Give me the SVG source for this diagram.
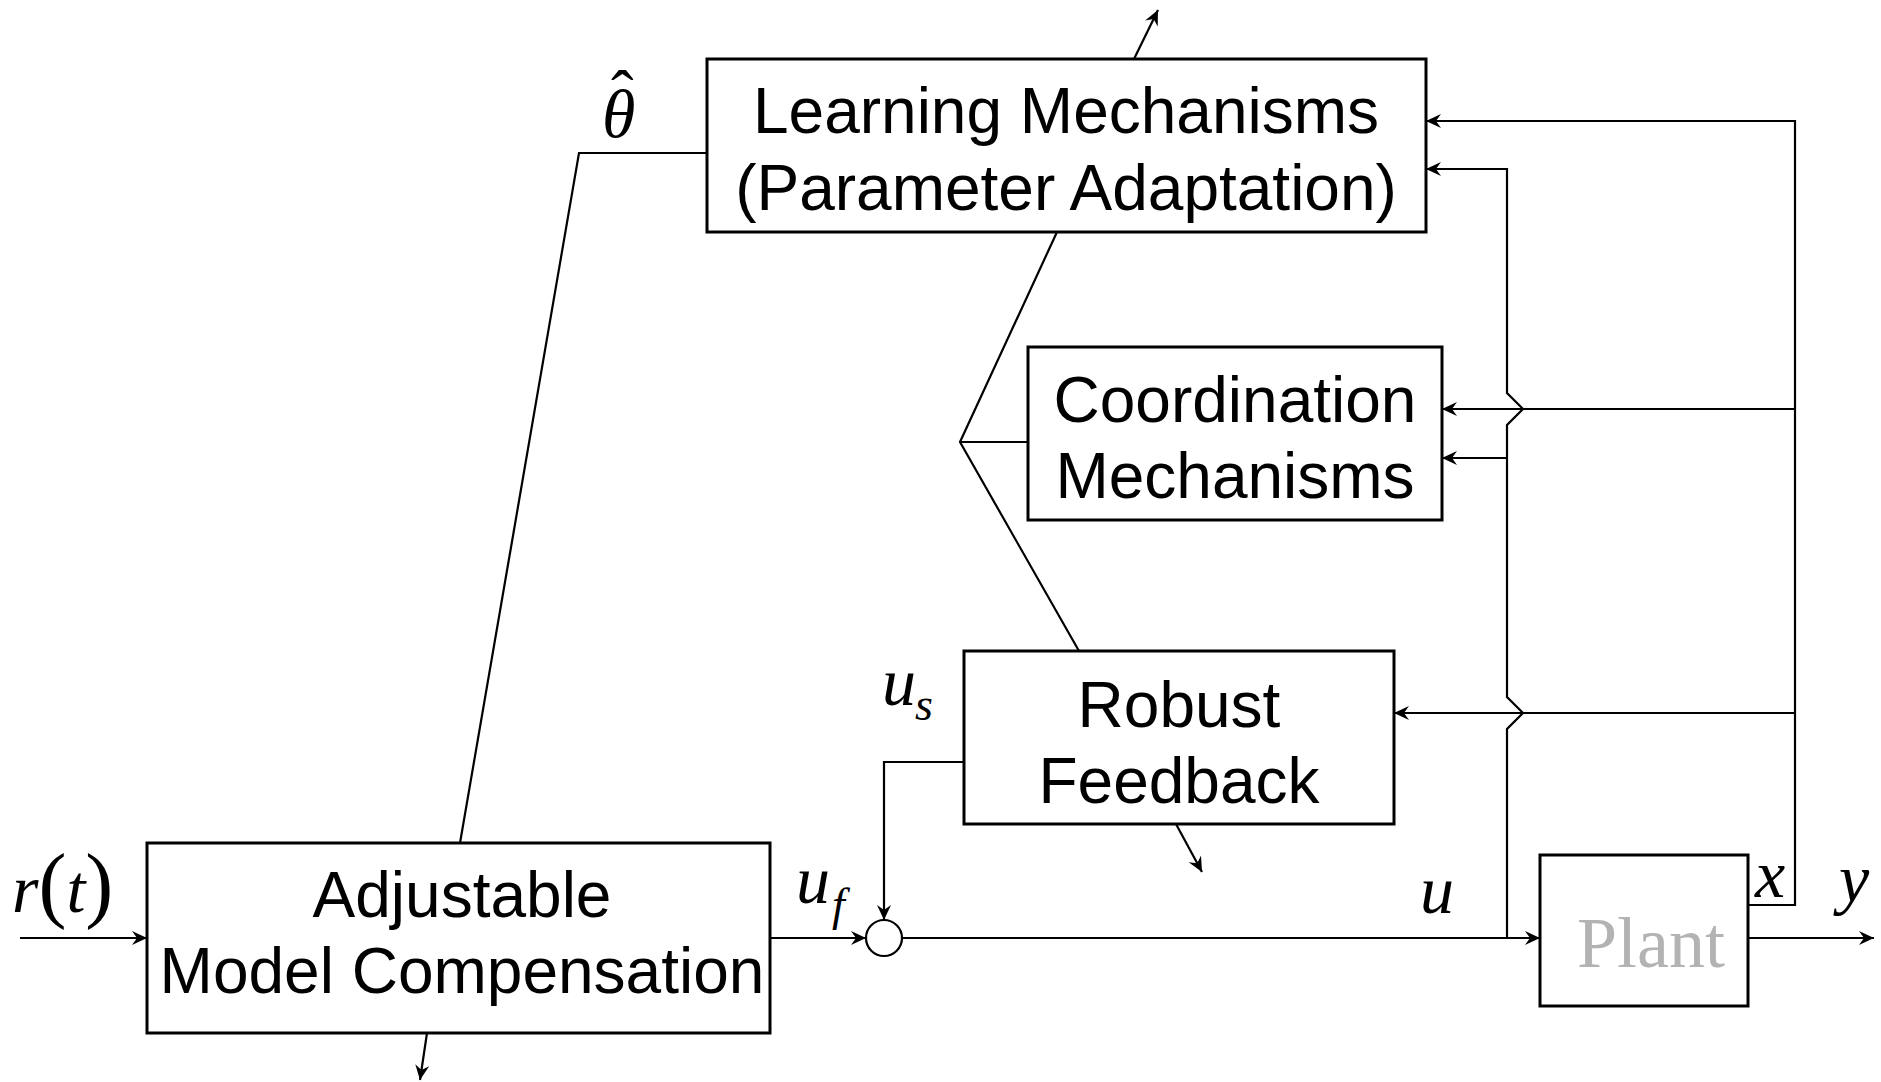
<svg xmlns="http://www.w3.org/2000/svg" width="1881" height="1082" viewBox="0 0 1881 1082">
<style>
.box{fill:#fff;stroke:#000;stroke-width:3}
.lbl{font-family:"Liberation Sans",Arial,sans-serif;font-size:64px;fill:#000;text-anchor:middle}
.var{font-family:"Liberation Serif","Times New Roman",serif;font-style:italic;font-size:68px;fill:#000}
.sub{font-size:46px}
.par{font-style:normal;font-size:84px}
.ln{fill:none;stroke:#000;stroke-width:2.2}
.ar{marker-end:url(#arr)}
</style>
<defs>
<marker id="arr" viewBox="-16 -8 18 16" refX="0" refY="0" markerWidth="18" markerHeight="16" orient="auto" markerUnits="userSpaceOnUse">
<path d="M0,0 L-15,-7 L-10,0 L-15,7 Z" fill="#000"/>
</marker>
</defs>
<rect width="1881" height="1082" fill="#fff"/>
<g id="connectors">
<path class="ln ar" d="M20,938 H147"/>
<path class="ln ar" d="M770,938 H866"/>
<path class="ln ar" d="M902,938 H1540"/>
<path class="ln ar" d="M1748,938 H1874"/>
<path class="ln ar" d="M964,762 H884 V920"/>
<path class="ln ar" d="M1507,938 V729 L1523,713 L1507,697 V425 L1523,409 L1507,393 V169 H1426"/>
<path class="ln ar" d="M1507,458 H1442"/>
<path class="ln ar" d="M1748,905 H1795 V121 H1426"/>
<path class="ln ar" d="M1795,409 H1442"/>
<path class="ln ar" d="M1795,713 H1394"/>
<path class="ln" d="M707,153 H579 L460,843"/>
<path class="ln" d="M1057,232 L960,442 L1079,651 M960,442 H1028"/>
<path class="ln ar" d="M1134,59 L1158,10"/>
<path class="ln ar" d="M1176,824 L1202,872"/>
<path class="ln ar" d="M427,1033 L420,1080"/>
</g>
<g id="learning">
<rect class="box" x="707" y="59" width="719" height="173"/>
<text class="lbl" x="1066" y="133">Learning Mechanisms</text>
<text class="lbl" x="1066" y="210">(Parameter Adaptation)</text>
</g>
<g id="coordination">
<rect class="box" x="1028" y="347" width="414" height="173"/>
<text class="lbl" x="1235" y="422">Coordination</text>
<text class="lbl" x="1235" y="498">Mechanisms</text>
</g>
<g id="robust">
<rect class="box" x="964" y="651" width="430" height="173"/>
<text class="lbl" x="1179" y="727">Robust</text>
<text class="lbl" x="1179" y="803">Feedback</text>
</g>
<g id="adjustable">
<rect class="box" x="147" y="843" width="623" height="190"/>
<text class="lbl" x="462" y="917">Adjustable</text>
<text class="lbl" x="462" y="993">Model Compensation</text>
</g>
<g id="sum">
<circle cx="884" cy="938" r="18" fill="#fff" stroke="#000" stroke-width="2.2"/>
</g>
<g id="plant">
<rect class="box" x="1540" y="855" width="208" height="151"/>
<text x="1651" y="967" font-family="'Liberation Serif','Times New Roman',serif" font-size="72" fill="#b3b3b3" text-anchor="middle">Plant</text>
</g>
<g id="labels">
<text class="var" x="12" y="912">r<tspan class="par">(</tspan>t<tspan class="par">)</tspan></text>
<text class="var" x="602" y="137" font-size="66">θ<tspan x="611" y="117" font-style="normal">ˆ</tspan></text>
<text class="var" x="796" y="903">u<tspan class="sub" x="832" y="920">f</tspan></text>
<text class="var" x="882" y="705">u<tspan class="sub" x="915" y="720">s</tspan></text>
<text class="var" x="1420" y="913">u</text>
<text class="var" x="1755" y="897">x</text>
<text class="var" x="1839" y="902">y</text>
</g>
</svg>
